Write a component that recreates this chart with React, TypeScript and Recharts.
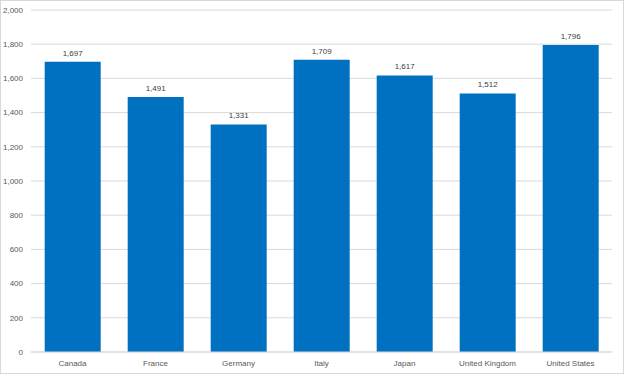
import React from "react";
import { BarChart, Bar, XAxis, YAxis, CartesianGrid, LabelList } from "recharts";

const categories = ["Canada", "France", "Germany", "Italy", "Japan", "United Kingdom", "United States"];
const values = [1697, 1491, 1331, 1709, 1617, 1512, 1796];
const yTicks = [0, 200, 400, 600, 800, 1000, 1200, 1400, 1600, 1800, 2000];

const data = categories.map((c, i) => ({ name: c, value: values[i] }));
const fmt = (v: number) => v.toLocaleString("en-US");

export default function App() {
  return (
    <div style={{ position: "absolute", left: 0, top: 0, width: 624, height: 374, boxSizing: "border-box", border: "1px solid #d9d9d9", background: "#fff" }}>
      <BarChart width={622} height={372} data={data} margin={{ top: 9, right: 11, bottom: 0, left: 0 }} barCategoryGap="16.5%">
        <CartesianGrid vertical={false} stroke="#d9d9d9" />
        <XAxis dataKey="name" height={21} tickLine={false} axisLine={{ stroke: "#d9d9d9" }} tick={{ fill: "#595959", fontSize: 8, fontFamily: "Liberation Sans, Arial, sans-serif" }} tickMargin={2} interval={0} />
        <YAxis width={30} domain={[0, 2000]} ticks={yTicks} tickFormatter={fmt} axisLine={false} tickLine={false} tick={{ fill: "#595959", fontSize: 8, fontFamily: "Liberation Sans, Arial, sans-serif" }} tickMargin={2} />
        <Bar dataKey="value" fill="#0070C0" isAnimationActive={false}>
          <LabelList dataKey="value" position="top" offset={6} formatter={(v: any) => fmt(Number(v))} style={{ fill: "#404040", fontSize: 8, fontFamily: "Liberation Sans, Arial, sans-serif" }} />
        </Bar>
      </BarChart>
    </div>
  );
}
